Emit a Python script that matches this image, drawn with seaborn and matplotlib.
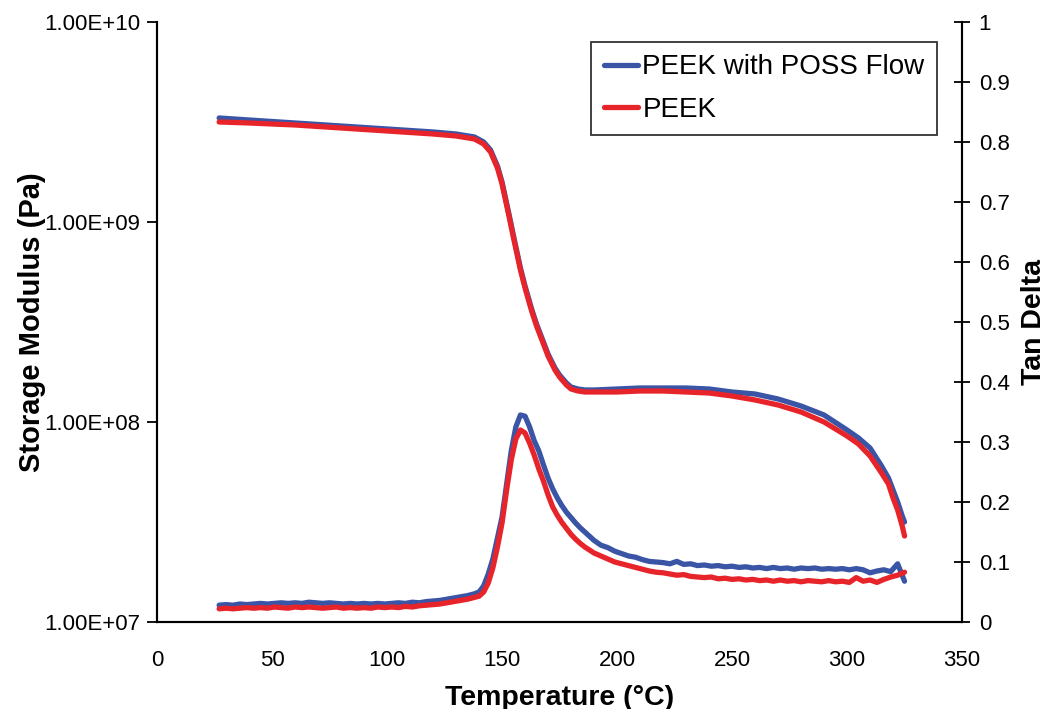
import numpy as np
import pandas as pd
import seaborn as sns
import matplotlib.pyplot as plt
from matplotlib.ticker import FixedLocator, FixedFormatter

# storage modulus, log10(Pa)
mod_temp = [27, 40, 60, 80, 100, 120, 130, 138, 142, 145, 148, 150, 153, 155, 158, 160,
            163, 165, 168, 170, 173, 175, 178, 180, 183, 186, 190, 200, 210, 220, 230, 240,
            250, 260, 270, 280, 290, 300, 305, 310, 315, 318, 320, 322, 324, 325]
mod_poss = [9.52, 9.51, 9.495, 9.48, 9.465, 9.45, 9.44, 9.425, 9.40, 9.36, 9.28, 9.20,
            9.04, 8.93, 8.77, 8.68, 8.56, 8.49, 8.40, 8.34, 8.27, 8.235, 8.195, 8.175,
            8.165, 8.16, 8.16, 8.165, 8.17, 8.17, 8.17, 8.165, 8.15, 8.14, 8.115, 8.08,
            8.035, 7.96, 7.92, 7.87, 7.78, 7.72, 7.66, 7.60, 7.53, 7.50]
mod_peek = [9.50, 9.495, 9.485, 9.47, 9.455, 9.44, 9.43, 9.415, 9.39, 9.35, 9.27, 9.19,
            9.03, 8.92, 8.76, 8.67, 8.55, 8.48, 8.39, 8.33, 8.26, 8.225, 8.185, 8.165,
            8.155, 8.15, 8.15, 8.15, 8.155, 8.155, 8.15, 8.145, 8.13, 8.11, 8.085, 8.05,
            8.00, 7.93, 7.89, 7.83, 7.745, 7.69, 7.62, 7.56, 7.48, 7.43]

# tan delta
tan_temp = list(range(27, 139, 3)) + list(range(140, 191, 2)) + list(range(193, 326, 3))
tan_poss = [0.028, 0.029, 0.028, 0.030, 0.029, 0.030, 0.031, 0.030, 0.031, 0.032,
            0.031, 0.032, 0.031, 0.033, 0.032, 0.031, 0.032, 0.031, 0.030, 0.031,
            0.030, 0.031, 0.030, 0.031, 0.030, 0.031, 0.032, 0.031, 0.033, 0.032,
            0.034, 0.035, 0.036, 0.038, 0.040, 0.042, 0.044, 0.047,
            0.050, 0.060, 0.080, 0.105, 0.140, 0.175, 0.230, 0.285, 0.325, 0.345,
            0.343, 0.325, 0.302, 0.285, 0.262, 0.240, 0.222, 0.207, 0.194, 0.183,
            0.174, 0.165, 0.157, 0.150, 0.143, 0.136,
            0.128, 0.124, 0.118, 0.114, 0.110, 0.108, 0.104, 0.101, 0.100, 0.099,
            0.097, 0.101, 0.096, 0.097, 0.094, 0.095, 0.093, 0.094, 0.092, 0.093,
            0.091, 0.092, 0.090, 0.091, 0.089, 0.091, 0.089, 0.090, 0.088, 0.090,
            0.089, 0.090, 0.088, 0.089, 0.088, 0.089, 0.087, 0.089, 0.087, 0.082,
            0.085, 0.087, 0.084, 0.097, 0.068]
tan_peek = [0.022, 0.023, 0.022, 0.023, 0.024, 0.023, 0.024, 0.023, 0.025, 0.024,
            0.023, 0.025, 0.024, 0.025, 0.024, 0.023, 0.024, 0.025, 0.023, 0.024,
            0.023, 0.024, 0.023, 0.025, 0.024, 0.025, 0.024, 0.026, 0.025, 0.027,
            0.028, 0.029, 0.030, 0.032, 0.034, 0.036, 0.038, 0.041,
            0.043, 0.050, 0.065, 0.090, 0.125, 0.165, 0.220, 0.270, 0.305, 0.320,
            0.315, 0.298, 0.278, 0.255, 0.235, 0.212, 0.192, 0.178, 0.166, 0.156,
            0.146, 0.138, 0.131, 0.125, 0.120, 0.115,
            0.110, 0.105, 0.100, 0.097, 0.094, 0.091, 0.088, 0.085, 0.083, 0.082,
            0.080, 0.078, 0.079, 0.076, 0.075, 0.074, 0.075, 0.072, 0.073, 0.071,
            0.072, 0.070, 0.071, 0.069, 0.070, 0.068, 0.070, 0.068, 0.069, 0.067,
            0.069, 0.068, 0.067, 0.069, 0.067, 0.068, 0.066, 0.074, 0.068, 0.070,
            0.066, 0.071, 0.075, 0.078, 0.083]

labels = ["PEEK with POSS Flow", "PEEK"]
colors = ["#3a55a5", "#e8242b"]

sns.set_style("white", {"text.color": "black", "axes.labelcolor": "black"})
plt.rcParams['font.family'] = ['Liberation Sans', 'DejaVu Sans']

fig = plt.figure(figsize=(10.49, 7.09), dpi=100)
ax = fig.add_axes([0.1497, 0.1227, 0.7674, 0.8463])
ax2 = ax.twinx()

mod = pd.DataFrame({"T": mod_temp * 2,
                    "E": 10 ** np.array(mod_poss + mod_peek),
                    "sample": [labels[0]] * len(mod_temp) + [labels[1]] * len(mod_temp)})
tan = pd.DataFrame({"T": tan_temp * 2,
                    "tan": tan_poss + tan_peek,
                    "sample": [labels[0]] * len(tan_temp) + [labels[1]] * len(tan_temp)})

sns.lineplot(data=mod, x="T", y="E", hue="sample", palette=colors, hue_order=labels,
             lw=3.8, ax=ax, sort=False)
sns.lineplot(data=tan, x="T", y="tan", hue="sample", palette=colors, hue_order=labels,
             lw=3.8, ax=ax2, sort=False, legend=False)

ax.set_yscale("log")
ax.set_xlim(0, 350)
ax.set_ylim(1e7, 1e10)
ax.yaxis.set_major_locator(FixedLocator([1e7, 1e8, 1e9, 1e10]))
ax.yaxis.set_major_formatter(FixedFormatter(["1.00E+07", "1.00E+08", "1.00E+09", "1.00E+10"]))
ax.yaxis.set_minor_locator(FixedLocator([]))
ax.set_xticks(range(0, 351, 50))
ax2.set_ylim(0, 1)
ax2.set_yticks([0, 0.1, 0.2, 0.3, 0.4, 0.5, 0.6, 0.7, 0.8, 0.9, 1])
ax2.set_yticklabels(["0", "0.1", "0.2", "0.3", "0.4", "0.5", "0.6", "0.7", "0.8", "0.9", "1"])

for a in (ax, ax2):
    a.spines["top"].set_visible(False)
    for s in ("left", "bottom", "right"):
        a.spines[s].set_color("black")
        a.spines[s].set_linewidth(1.5)
ax.tick_params(axis="y", which="major", direction="out", length=7, width=1.3,
               labelsize=16, colors="black", pad=5)
ax.tick_params(axis="x", which="major", direction="out", length=8, width=1.3,
               labelsize=16, colors="black", pad=12)
ax2.tick_params(axis="y", direction="inout", length=12, width=1.3, labelsize=16,
                colors="black", pad=6)

ax.set_xlabel("Temperature (°C)", fontsize=20.5, fontweight="bold", labelpad=10)
ax.set_ylabel("Storage Modulus (Pa)", fontsize=21, fontweight="bold", labelpad=-1)
ax2.set_ylabel("Tan Delta", fontsize=20.5, fontweight="bold", labelpad=8)

leg = ax.legend(loc="upper right", bbox_to_anchor=(0.969, 0.967), borderaxespad=0,
                fontsize=20, frameon=True, fancybox=False, handlelength=1.25,
                handletextpad=0.15, labelspacing=0.6, borderpad=0.45)
leg.get_frame().set_edgecolor("black")
leg.get_frame().set_linewidth(1.3)
leg.set_zorder(5)

fig.savefig("out.png", dpi=100)
